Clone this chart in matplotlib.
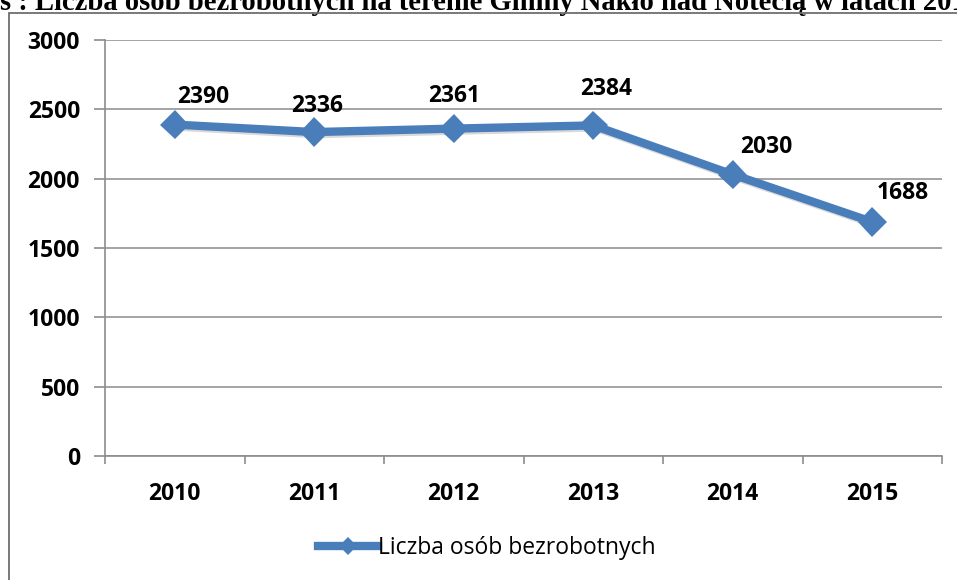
import matplotlib
matplotlib.use('Agg')
import matplotlib.pyplot as plt
import matplotlib.patheffects as pe
from matplotlib.patches import Rectangle
from matplotlib.lines import Line2D

### DATA
years = ['2010', '2011', '2012', '2013', '2014', '2015']
unemployed = [2390, 2336, 2361, 2384, 2030, 1688]
y_ticks = [0, 500, 1000, 1500, 2000, 2500, 3000]
series_name = 'Liczba osób bezrobotnych'
title = 's : Liczba osób bezrobotnych na terenie Gminy Nakło nad Notecią w latach 2010-2015'

### STYLE
LINE_COLOR = '#4a7ebb'
GRID_COLOR = '#8c8c8c'
LABEL_FONT = 'Open Sans'
LABEL_SIZE = 16.5
# data label offsets in pixels (dx, dy) relative to the marker, as in the original
LABEL_OFFSETS = [(28, 22), (3, 20), (0, 27), (13, 30), (34, 22), (30, 23)]

W, H = 957, 580
DPI = 100
fig = plt.figure(figsize=(W / DPI, H / DPI), dpi=DPI)
px = 72.0 / DPI  # pixels -> points

# Outer chart frame (clipped at right and bottom in the original)
fig.patches.append(Rectangle((9 / W, -0.1), 1.2, 1.1 - 13 / H,
                             transform=fig.transFigure, fill=False,
                             edgecolor='#6e6e6e', linewidth=1.3, zorder=5))

# Clipped caption above the chart
fig.text(0 / W, 1 - 10 / H, title, fontsize=20.6, fontweight='bold',
         family='Liberation Serif', ha='left', va='baseline', zorder=1)

ax = fig.add_axes([105 / W, 1 - 456 / H, (942 - 105) / W, (456 - 40) / H])

x = list(range(len(years)))
ax.plot(x, unemployed, color=LINE_COLOR, linewidth=6, marker='D',
        markersize=15, markeredgewidth=0, solid_joinstyle='miter',
        path_effects=[pe.SimpleLineShadow(offset=(1.5, -1.5), alpha=0.15),
                      pe.Normal()], zorder=3, clip_on=False)

for xi, val, (dx, dy) in zip(x, unemployed, LABEL_OFFSETS):
    ax.annotate(str(val), (xi, val), xytext=(dx * px, dy * px),
                textcoords='offset points', ha='center', va='baseline',
                fontsize=LABEL_SIZE, fontweight='bold', family=LABEL_FONT)

ax.set_xlim(-0.5, len(years) - 0.5)
ax.set_ylim(0, 3000)
ax.set_yticks(y_ticks)
ax.set_yticklabels([str(v) for v in y_ticks])
ax.set_xticks(x)
ax.set_xticklabels(years)
ax.set_xticks([i - 0.5 for i in range(len(years) + 1)], minor=True)

ax.tick_params(axis='x', which='major', length=0, pad=19)
ax.tick_params(axis='x', which='minor', length=8 * px, color=GRID_COLOR, width=1.2)
ax.tick_params(axis='y', length=11 * px, color=GRID_COLOR, width=1.2, pad=14 * px)
for lab in ax.get_xticklabels() + ax.get_yticklabels():
    lab.set_fontsize(LABEL_SIZE)
    lab.set_fontweight('bold')
    lab.set_family(LABEL_FONT)

ax.grid(axis='y', color=GRID_COLOR, linewidth=1.1)
ax.set_axisbelow(True)
for side in ['top', 'right']:
    ax.spines[side].set_visible(False)
for side in ['left', 'bottom']:
    ax.spines[side].set_color(GRID_COLOR)
    ax.spines[side].set_linewidth(1.2)

handle = Line2D([], [], color=LINE_COLOR, linewidth=6, marker='D',
                markersize=9, markeredgewidth=0)
fig.legend([handle], [series_name], loc='center',
           bbox_to_anchor=(487 / W, 1 - 548 / H), frameon=False,
           handlelength=2.6, handletextpad=0.0,
           prop={'family': LABEL_FONT, 'size': 16.5})

fig.savefig('out.png', dpi=DPI)
